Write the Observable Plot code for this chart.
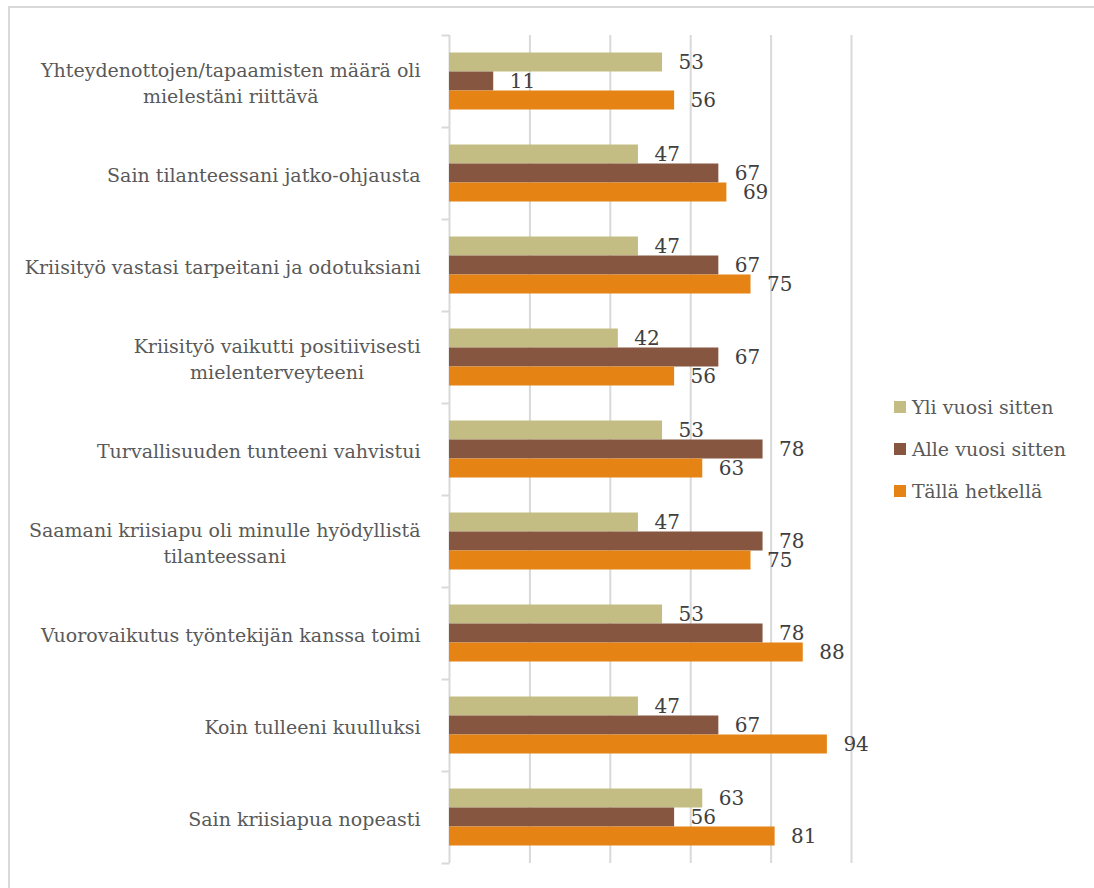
<!DOCTYPE html>
<html>
<head>
<meta charset="utf-8">
<script src="https://cdn.jsdelivr.net/npm/d3@7"></script>
<script src="https://cdn.jsdelivr.net/npm/@observablehq/plot@0.6"></script>
<style>
  html, body { margin: 0; padding: 0; background: #fff; }
  body { width: 1094px; height: 888px; position: relative; overflow: hidden; font-family: "DejaVu Serif", serif; }
  #frame { position: absolute; left: 8px; top: 6px; width: 1200px; height: 1000px; border-top: 2px solid #d9d9d9; border-left: 2px solid #d9d9d9; box-sizing: border-box; }
  #chart { position: absolute; left: 0; top: 0; }
  #legend { position: absolute; left: 894px; top: 386px; font-size: 19px; color: #595959; }
  #legend .row { display: flex; align-items: center; height: 42px; }
  #legend .sw { width: 12px; height: 12px; margin-right: 6px; }
</style>
</head>
<body>
<div id="frame"></div>
<div id="chart"></div>
<div id="legend"></div>
<script>
const categories = [
  "Yhteydenottojen/tapaamisten määrä oli\nmielestäni riittävä",
  "Sain tilanteessani jatko-ohjausta",
  "Kriisityö vastasi tarpeitani ja odotuksiani",
  "Kriisityö vaikutti positiivisesti\nmielenterveyteeni",
  "Turvallisuuden tunteeni vahvistui",
  "Saamani kriisiapu oli minulle hyödyllistä\ntilanteessani",
  "Vuorovaikutus työntekijän kanssa toimi",
  "Koin tulleeni kuulluksi",
  "Sain kriisiapua nopeasti"
];
const seriesNames = ["Yli vuosi sitten", "Alle vuosi sitten", "Tällä hetkellä"];
const yliVuosiSitten  = [53, 47, 47, 42, 53, 47, 53, 47, 63];
const alleVuosiSitten = [11, 67, 67, 67, 78, 78, 78, 67, 56];
const tallaHetkella   = [56, 69, 75, 56, 63, 75, 88, 94, 81];
const colors = ["#c4bd83", "#865640", "#e58314"];
const gridTicks = [20, 40, 60, 80, 100];

const seriesValues = [yliVuosiSitten, alleVuosiSitten, tallaHetkella];
const rows = [];
categories.forEach((c, i) => {
  seriesValues.forEach((vals, s) => {
    rows.push({category: c, idx: i, series: seriesNames[s], s, value: vals[i]});
  });
});

const height = 888, marginTop = 35, marginBottom = 25;
const band = (height - marginTop - marginBottom) / categories.length;
const barH = 19;
const groupTop = (band - 3 * barH) / 2;
const serif = "'DejaVu Serif', serif";

const barMarks = seriesNames.map((name, s) =>
  Plot.rect(rows.filter(d => d.s === s), {
    x1: d => 0,
    x2: d => d.value,
    y1: d => d.idx,
    y2: d => d.idx + 1,
    fill: colors[s],
    insetTop: groupTop + s * barH,
    insetBottom: band - groupTop - (s + 1) * barH
  })
);
const labelMarks = seriesNames.map((name, s) =>
  Plot.text(rows.filter(d => d.s === s), {
    x: d => d.value,
    y: d => d.idx,
    text: d => String(d.value),
    textAnchor: "start",
    dx: 16,
    dy: groupTop + (s + 0.5) * barH,
    fill: "#404040",
    fontSize: 20,
    fontFamily: serif
  })
);

const chart = Plot.plot({
  width: 1094,
  height,
  marginLeft: 449,
  marginRight: 243,
  marginTop,
  marginBottom,
  style: {fontFamily: serif, background: "transparent", overflow: "visible"},
  x: {type: "linear", domain: [0, 100], axis: null},
  y: {type: "linear", domain: [0, categories.length], reverse: true, axis: null},
  marks: [
    Plot.ruleX(gridTicks, {x: d => d, stroke: "#d9d9d9", strokeWidth: 2, strokeOpacity: 1}),
    Plot.ruleX([0], {x: d => d, stroke: "#d9d9d9", strokeWidth: 2, strokeOpacity: 1}),
    Plot.link(d3.range(categories.length + 1), {x1: d => 0, x2: d => 0, y1: d => d, y2: d => d, stroke: "#d9d9d9", strokeWidth: 2, strokeOpacity: 1, className: "cat-ticks"}),
    ...barMarks,
    ...labelMarks,
    Plot.text(categories, {
      x: d => 0,
      y: (d, i) => i + 0.5,
      text: d => d,
      textAnchor: "end",
      dx: -29,
      fill: "#595959",
      fontSize: 19,
      fontFamily: serif,
      lineHeight: 1.35,
      className: "cat-labels"
    })
  ]
});
document.getElementById("chart").appendChild(chart);

// extend the category tick marks 8px to the left of the axis
chart.querySelectorAll("g.cat-ticks path").forEach(p => {
  const m = p.getAttribute("d").match(/M([-\d.]+),([-\d.]+)/);
  if (m) {
    const x = +m[1], y = +m[2];
    p.setAttribute("d", `M${x - 8},${y}L${x},${y}`);
  }
});

// center multi-line category labels within their block, block right-aligned at the axis
chart.querySelectorAll("g.cat-labels text").forEach(t => {
  const spans = t.querySelectorAll("tspan");
  if (spans.length > 1) {
    let maxW = 0;
    spans.forEach(sp => { maxW = Math.max(maxW, sp.getComputedTextLength()); });
    t.setAttribute("text-anchor", "middle");
    spans.forEach(sp => sp.setAttribute("x", -maxW / 2));
  }
});

// legend
const legend = document.getElementById("legend");
seriesNames.forEach((name, s) => {
  const row = document.createElement("div");
  row.className = "row";
  const sw = document.createElement("div");
  sw.className = "sw";
  sw.style.background = colors[s];
  const tx = document.createElement("span");
  tx.textContent = name;
  row.appendChild(sw);
  row.appendChild(tx);
  legend.appendChild(row);
});
</script>
</body>
</html>
